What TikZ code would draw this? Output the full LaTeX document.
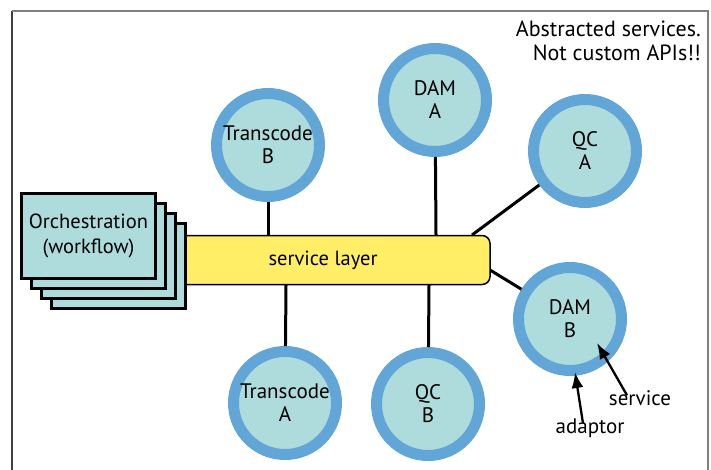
\documentclass[tikz,border=0pt]{standalone}
\usepackage{fontspec}
\setmainfont{PT Sans}
\usetikzlibrary{positioning,arrows.meta}
\definecolor{ringblue}{HTML}{62A6D8}
\definecolor{svcfill}{HTML}{AEDBDB}
\definecolor{layeryellow}{HTML}{FFEE66}
\tikzset{
  svc/.style={circle, draw=ringblue, line width=11pt, fill=svcfill, minimum size=103pt,
    inner sep=0pt, align=center, font=\fontsize{21}{23}\selectfont},
  link/.style={line width=3pt},
  orchbox/.style={draw, line width=2.5pt, fill=svcfill, minimum width=134pt,
    minimum height=85pt, align=center, font=\fontsize{20.5}{25}\selectfont},
  layerbar/.style={draw, line width=1.5pt, fill=layeryellow, rounded corners=8pt,
    minimum width=334pt, minimum height=49pt, font=\fontsize{20.5}{24}\selectfont},
  pointer/.style={line width=2.3pt, -{Latex[length=16pt,width=12pt]}},
  caption/.style={font=\fontsize{22}{24}\selectfont, inner sep=0pt}
}
\begin{document}
\begin{tikzpicture}[x=1pt,y=-1pt]
    \useasboundingbox (0,0) rectangle (711,470);
    % frame
    \draw[line width=2pt, black!75] (12,470) -- (12,11);
    \draw[line width=2pt, black!50] (12,11) -- (708,11) -- (708,470);
    \node[caption, anchor=north east, align=right] (note) at (701,21)
        {Abstracted services.\\Not custom APIs!!};

    % services
    \foreach \name/\pos/\txt in {tb/{(268,145)}/Transcode\\B, dama/{(435,100)}/DAM\\A,
        qca/{(585,151)}/QC\\A, damb/{(570,319)}/DAM\\B,
        ta/{(285,403)}/Transcode\\A, qcb/{(428,404)}/QC\\B}
    {
        \node[svc] (\name) at \pos {\txt};
    }

    % service layer and its links
    \coordinate (qcfoot) at (472,235);
    \coordinate (dambfoot) at (490,270);
    \draw[link] (tb) -- (268,235);
    \draw[link] (dama) -- (436,235);
    \draw[link] (qcfoot) -- (qca);
    \draw[link] (dambfoot) -- (damb);
    \draw[link] (ta) -- (286,285);
    \draw[link] (qcb) -- (429,285);
    \node[layerbar] (bar) at (323,260) {service layer};

    % orchestration stack
    \foreach \k in {3,2,1}
        \node[orchbox] (orch\k) at (88.5+10*\k,236+10*\k) {};
    \node[orchbox] (orch) at (88.5,236) {Orchestration\\(workflow)};

    % adaptor / service notes
    \node[caption, font=\fontsize{21}{24}\selectfont] (svclbl) at (640,398) {service};
    \node[caption, font=\fontsize{21}{24}\selectfont] (adlbl) at (590,428) {adaptor};
    \draw[pointer] ([xshift=-13pt,yshift=-5pt]svclbl.north) -- ([shift={(27,24)}]damb.center);
    \draw[pointer] ([xshift=-7pt,yshift=-5pt]adlbl.north) -- ([shift={(5,53)}]damb.center);
\end{tikzpicture}
\end{document}
